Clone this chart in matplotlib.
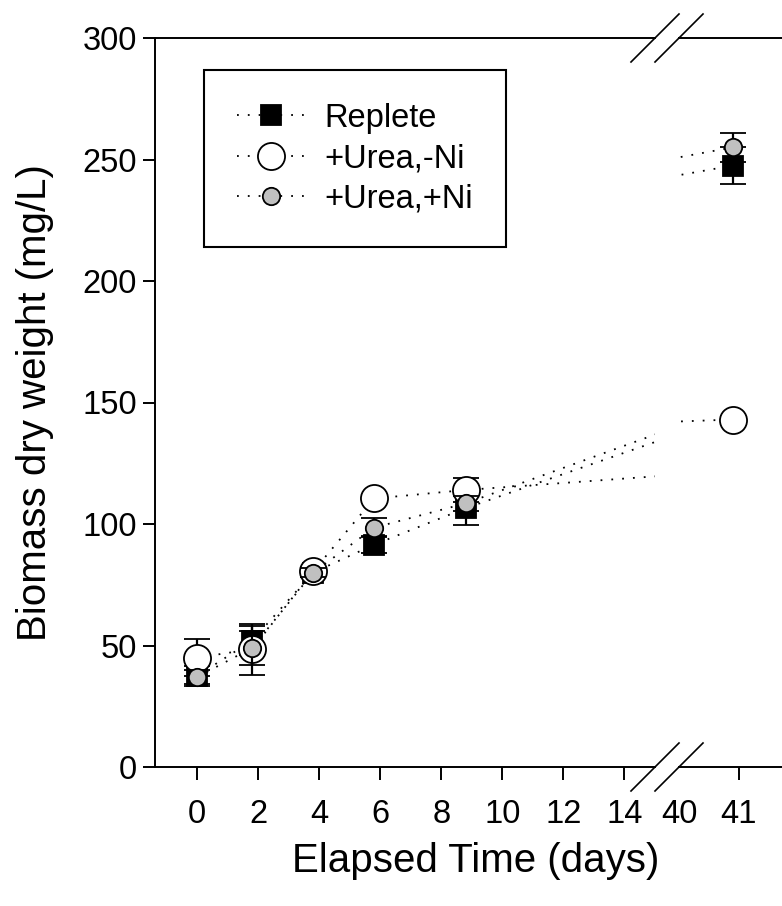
import matplotlib
matplotlib.use('Agg')
import matplotlib.pyplot as plt
from matplotlib.lines import Line2D

plt.rcParams['font.family'] = ['Liberation Sans', 'DejaVu Sans']

# data
days = [0, 1.8, 3.8, 5.8, 8.8, 40.9]
replete = [37.5, 52, 80, 91.5, 106.5, 247.5]
replete_err = [4, 6, 2, 3.5, 7, 7.5]
urea_no_ni = [45, 48.5, 80.5, 110.5, 114, 143]
urea_no_ni_err = [7.5, 10.5, 2, 1.5, 5, 1.5]
urea_ni = [37, 49, 80, 98.5, 108.5, 255]
urea_ni_err = [3, 7, 2, 4, 3, 6]

labels = ['Replete', '+Urea,-Ni', '+Urea,+Ni']
left_ticks = [0, 2, 4, 6, 8, 10, 12, 14]
right_ticks = [40, 41]
y_ticks = [0, 50, 100, 150, 200, 250, 300]

W, H = 782, 906
fig = plt.figure(figsize=(W / 100, H / 100), dpi=100)

bottom = 1 - 767 / H
height = (767 - 38) / H
ax1 = fig.add_axes([155 / W, bottom, (655 - 155) / W, height])
ax2 = fig.add_axes([679 / W, bottom, (W - 679) / W, height])

dots = (0, (1, 5))
series = [
    (replete, replete_err, dict(marker='s', ms=14, mfc='black', mec='black')),
    (urea_no_ni, urea_no_ni_err, dict(marker='o', ms=19.5, mfc='white', mec='black')),
    (urea_ni, urea_ni_err, dict(marker='o', ms=12.5, mfc='#c0c0c0', mec='black')),
]

handles = []
for ax in (ax1, ax2):
    for i, (vals, errs, style) in enumerate(series):
        ax.errorbar(days, vals, yerr=errs, color='black', ls=dots, lw=1.3,
                    mew=1.3, capsize=9.5, capthick=1.6, elinewidth=1.6,
                    zorder=3 + i, **style)

for vals, errs, style in series:
    handles.append(Line2D([], [], color='black', ls=dots, lw=1.3, mew=1.3, **style))

ax1.set_xlim(-1.38, 15.0)
ax2.set_xlim(40, 41.72)
for ax in (ax1, ax2):
    ax.set_ylim(0, 300)
    ax.tick_params(axis='both', direction='out', length=9, width=1.4,
                   labelsize=23.5)
    ax.tick_params(axis='x', pad=14)
    ax.tick_params(axis='y', pad=4)
    for sp in ax.spines.values():
        sp.set_linewidth(1.4)

ax1.set_xticks(left_ticks)
ax1.set_yticks(y_ticks)
ax1.spines['right'].set_visible(False)

ax2.set_xticks(right_ticks)
ax2.set_yticks([])
ax2.spines['left'].set_visible(False)
ax2.spines['right'].set_visible(False)
ax2.xaxis.get_major_ticks()[0].tick1line.set_visible(False)

# axis break marks
for yc in (767, 38):
    for xc in (655, 679):
        fig.add_artist(Line2D([(xc - 24) / W, (xc + 24) / W],
                              [1 - (yc + 24) / H, 1 - (yc - 24) / H],
                              transform=fig.transFigure, color='black', lw=1.2))

fig.text(476 / W, 1 - 861 / H, 'Elapsed Time (days)', fontsize=29,
         ha='center', va='center')
fig.text(35 / W, 1 - 403 / H, 'Biomass dry weight (mg/L)', fontsize=29,
         ha='center', va='center', rotation=90)

leg = ax1.legend(handles, labels, loc='upper left',
                 bbox_to_anchor=(204 / W, 1 - 70 / H),
                 bbox_transform=fig.transFigure, borderaxespad=0,
                 fontsize=23.5, handlelength=2.1, handletextpad=0.6,
                 labelspacing=0.29, borderpad=1.0, fancybox=False,
                 framealpha=1, edgecolor='black')
leg.get_frame().set_linewidth(1.5)

fig.savefig('out.png', dpi=100)
